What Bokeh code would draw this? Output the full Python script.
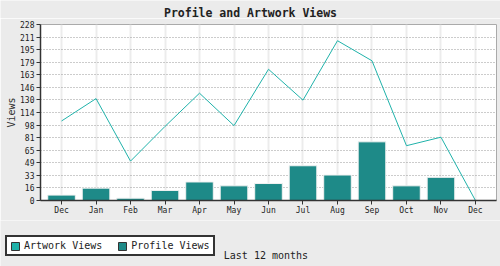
from bokeh.plotting import figure
from bokeh.layouts import column, row
from bokeh.models import (ColumnDataSource, Range1d, FixedTicker, Legend, LegendItem, Label)
from bokeh.embed import file_html
from bokeh.resources import INLINE

months = ["Dec", "Jan", "Feb", "Mar", "Apr", "May", "Jun", "Jul", "Aug", "Sep", "Oct", "Nov", "Dec"]
artwork_views = [103, 132, 51, 96, 139, 97, 170, 130, 207, 181, 71, 82, 0]
profile_views = [7, 16, 3, 13, 24, 19, 22, 45, 33, 76, 19, 30, 0]
y_max = 228
y_tick_labels = ["0", "16", "33", "49", "65", "81", "98", "114", "130", "146", "163", "179", "195", "211", "228"]
chart_title = "Profile and Artwork Views"
x_caption = "Last 12 months"

FONT = "DejaVu Sans Mono"
LINE_COLOR = "#20b2aa"
BAR_COLOR = "#1e8a88"
BG = "#ebebeb"


def strip(height):
    f = figure(width=500, height=height, output_backend="svg", toolbar_location=None,
               x_range=Range1d(0, 1), y_range=Range1d(0, 1),
               x_axis_location=None, y_axis_location=None, title=None,
               min_border=0, min_border_left=0, min_border_right=0,
               min_border_top=0, min_border_bottom=0)
    f.background_fill_color = BG
    f.border_fill_color = BG
    f.outline_line_color = None
    f.xgrid.visible = False
    f.ygrid.visible = False
    return f


# title strip
t = strip(18)
t.add_layout(Label(x=250, y=6, x_units="screen", y_units="screen",
                   text=chart_title, text_align="center", text_baseline="middle",
                   text_font=FONT, text_font_size="11.5px", text_font_style="bold",
                   text_color="#222222"))

# main chart
idx = list(range(len(months)))
src = ColumnDataSource(dict(x=idx, art=artwork_views, prof=profile_views))

p = figure(width=500, height=202, output_backend="svg", toolbar_location=None, title=None,
           x_range=Range1d(-0.61, len(months) - 1 + 0.61), y_range=Range1d(0, y_max),
           min_border_left=40, min_border_right=4, min_border_top=6, min_border_bottom=20)
p.background_fill_color = "white"
p.border_fill_color = BG
p.outline_line_color = "#aaaaaa"
p.outline_line_width = 1

bars = p.vbar(x="x", top="prof", width=0.8, source=src, fill_color=BAR_COLOR,
              line_color="#f2f2f2", line_width=1)
line = p.line(x="x", y="art", source=src, line_color=LINE_COLOR, line_width=1)

n_ticks = len(y_tick_labels)
y_ticks = [i * y_max / (n_ticks - 1) for i in range(n_ticks)]
p.yaxis.ticker = FixedTicker(ticks=y_ticks)
p.yaxis.major_label_overrides = {tk: lab for tk, lab in zip(y_ticks, y_tick_labels)}
p.xaxis.ticker = FixedTicker(ticks=idx)
p.xaxis.major_label_overrides = {i: m for i, m in zip(idx, months)}

for ax in (p.xaxis, p.yaxis):
    ax.axis_line_color = "#333333"
    ax.axis_line_width = 1.5
    ax.major_tick_line_color = "#333333"
    ax.major_tick_out = 4
    ax.major_tick_in = 0
    ax.minor_tick_line_color = None
    ax.major_label_text_font = FONT
    ax.major_label_text_font_size = "8px"
    ax.major_label_text_color = "#222222"
    ax.major_label_standoff = 2
p.xaxis.major_label_standoff = 1

p.yaxis.axis_label = "Views"
p.yaxis.axis_label_text_font = FONT
p.yaxis.axis_label_text_font_size = "10px"
p.yaxis.axis_label_text_font_style = "normal"
p.yaxis.axis_label_text_color = "#333333"
p.yaxis.axis_label_standoff = 0

p.ygrid.grid_line_color = "#999999"
p.ygrid.grid_line_dash = "1 2"
p.ygrid.grid_line_width = 1
p.xgrid.grid_line_color = "#ececec"
p.xgrid.grid_line_width = 2

# bottom strip: legend and caption
b = strip(46)
dummy = ColumnDataSource(dict(x=[-50], top=[0]))
sw_art = b.vbar(x="x", top="top", width=0.8, source=dummy, fill_color=LINE_COLOR,
                line_color="#333333", line_width=1)
sw_prof = b.vbar(x="x", top="top", width=0.8, source=dummy, fill_color=BAR_COLOR,
                 line_color="#333333", line_width=1)
legend = Legend(items=[LegendItem(label="Artwork Views", renderers=[sw_art]),
                       LegendItem(label="Profile Views", renderers=[sw_prof])],
                orientation="horizontal", location=(5, 10))
legend.label_text_font = FONT
legend.label_text_font_size = "10px"
legend.label_text_color = "#222222"
legend.glyph_width = 10
legend.glyph_height = 10
legend.label_height = 10
legend.label_standoff = 4
legend.spacing = 15
legend.padding = 3
legend.margin = 0
legend.border_line_color = "#333333"
legend.border_line_width = 2
legend.border_line_alpha = 1
legend.background_fill_color = "white"
legend.background_fill_alpha = 1
b.add_layout(legend)

b.add_layout(Label(x=223.3, y=10.7, x_units="screen", y_units="screen",
                   text=x_caption, text_align="left", text_baseline="middle",
                   text_font=FONT, text_font_size="10px", text_color="#222222"))

layout = column(row(t, spacing=0), p, row(b, spacing=0), spacing=0)
open("out.html", "w").write(file_html(layout, INLINE))
